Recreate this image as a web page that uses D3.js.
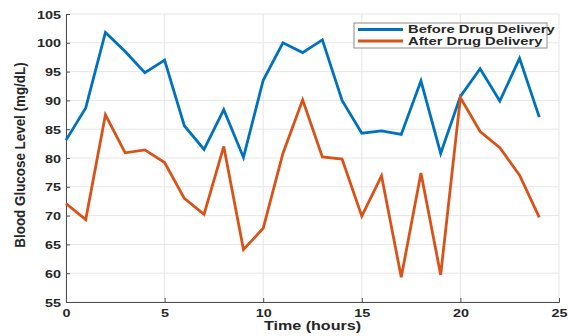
<!DOCTYPE html>
<html>
<head>
<meta charset="utf-8">
<script src="https://cdn.jsdelivr.net/npm/d3@7"></script>
<style>
  html, body { margin: 0; padding: 0; background: #fff; }
  svg { display: block; }
  text { font-family: "Liberation Sans", Arial, sans-serif; font-weight: bold; fill: #262626; }
</style>
</head>
<body>
<svg id="chart" width="568" height="336"></svg>
<script>
// Hourly blood glucose readings (mg/dL)
const hours = d3.range(0, 25);
const beforeDelivery = [83.1, 88.7, 101.8, 98.5, 94.8, 97.0, 85.6, 81.5, 88.4, 80.1,
                        93.5, 100.0, 98.3, 100.5, 90.0, 84.3, 84.7, 84.1, 93.4, 80.8,
                        90.7, 95.5, 89.9, 97.3, 87.1];
const afterDelivery  = [72.1, 69.3, 87.5, 80.9, 81.4, 79.2, 73.0, 70.2, 82.0, 64.1,
                        67.8, 80.8, 90.1, 80.2, 79.8, 69.9, 76.9, 59.3, 77.4, 59.7,
                        90.5, 84.6, 81.8, 77.0, 69.7];
const seriesNames = ["Before Drug Delivery", "After Drug Delivery"];
const seriesColors = ["#0072BD", "#D95319"];
const xTicks = [0, 5, 10, 15, 20, 25];
const yTicks = [55, 60, 65, 70, 75, 80, 85, 90, 95, 100, 105];

const svg = d3.select("#chart");
const m = { left: 66, right: 9, top: 14, bottom: 34 };
const W = 568, H = 336;
const WIDE = 1.24; // horizontal widening applied to all lettering

const x = d3.scaleLinear().domain([0, 25]).range([m.left, W - m.right]);
const y = d3.scaleLinear().domain([55, 105]).range([H - m.bottom, m.top]);

// grid
const grid = svg.append("g").attr("stroke", "#e6e6e6").attr("stroke-width", 1);
grid.selectAll("line.v").data(xTicks).join("line")
  .attr("x1", d => x(d)).attr("x2", d => x(d))
  .attr("y1", y(55)).attr("y2", y(105));
grid.selectAll("line.h").data(yTicks).join("line")
  .attr("x1", x(0)).attr("x2", x(25))
  .attr("y1", d => y(d)).attr("y2", d => y(d));

// axes
const xAxis = svg.append("g")
  .attr("transform", `translate(0,${y(55)})`)
  .call(d3.axisBottom(x).tickValues(xTicks).tickSize(-4));
const yAxis = svg.append("g")
  .attr("transform", `translate(${x(0)},0)`)
  .call(d3.axisLeft(y).tickValues(yTicks).tickSize(-4));
[xAxis, yAxis].forEach(a => {
  a.select(".domain").attr("stroke", "#4d4d4d").attr("stroke-width", 1);
  a.selectAll(".tick line").attr("stroke", "#4d4d4d");
  a.selectAll(".tick text").attr("font-size", 11.6).attr("font-weight", "bold")
    .attr("fill", "#262626").attr("font-family", "Liberation Sans, Arial, sans-serif")
    .attr("x", 0).attr("y", 0);
});
xAxis.selectAll(".tick text")
  .attr("dy", "0.71em")
  .attr("transform", `translate(0,7) scale(${WIDE},1)`);
yAxis.selectAll(".tick text")
  .attr("dy", "0.36em")
  .attr("transform", `translate(-5,0) scale(${WIDE},1)`);

// axis titles
svg.append("text")
  .attr("transform", `translate(${(x(0) + x(25)) / 2},330) scale(${WIDE},1)`)
  .attr("text-anchor", "middle").attr("font-size", 13)
  .text("Time (hours)");
svg.append("text")
  .attr("transform", `translate(25,155) scale(1.15,1) rotate(-90)`)
  .attr("text-anchor", "middle").attr("font-size", 13.4)
  .text("Blood Glucose Level (mg/dL)");

// lines
const line = d3.line().x((d, i) => x(hours[i])).y(d => y(d));
[beforeDelivery, afterDelivery].forEach((vals, k) => {
  svg.append("path").datum(vals)
    .attr("fill", "none").attr("stroke", seriesColors[k])
    .attr("stroke-width", 2.8).attr("stroke-linejoin", "miter")
    .attr("d", line);
});

// legend
const lg = svg.append("g").attr("transform", "translate(354,23)");
lg.append("rect").attr("width", 193).attr("height", 25)
  .attr("fill", "#fff").attr("stroke", "#8c8c8c").attr("stroke-width", 1);
seriesNames.forEach((name, k) => {
  const yy = 6.5 + k * 11.5;
  lg.append("line").attr("x1", 4).attr("x2", 49).attr("y1", yy).attr("y2", yy)
    .attr("stroke", seriesColors[k]).attr("stroke-width", 2.8);
  lg.append("text")
    .attr("transform", `translate(54,${yy}) scale(1.33,1)`)
    .attr("dy", "0.36em").attr("font-size", 11.1).text(name);
});
</script>
</body>
</html>
